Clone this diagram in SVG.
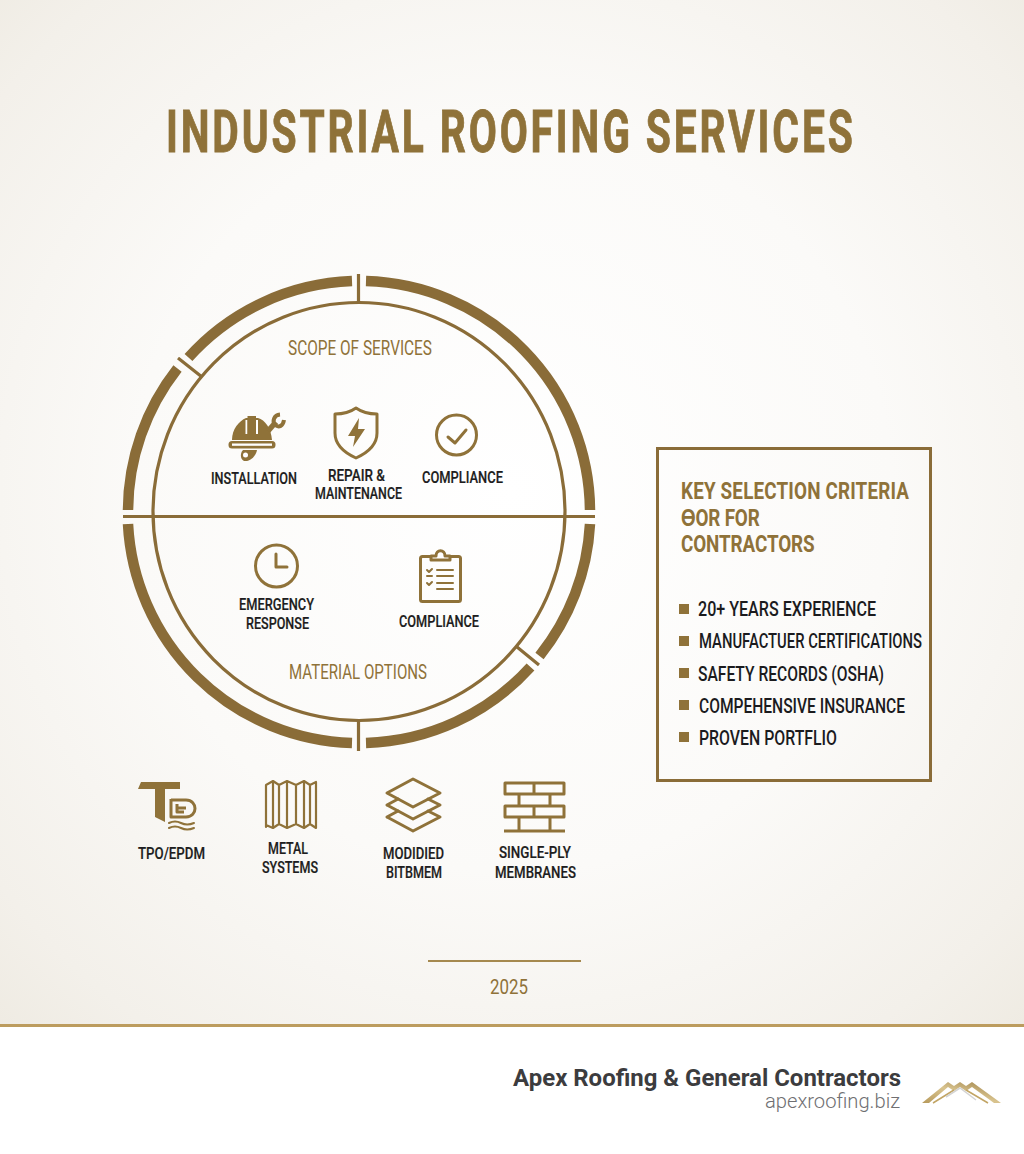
<svg xmlns="http://www.w3.org/2000/svg" width="1024" height="1154" viewBox="0 0 1024 1154">
<style>
text{font-family:Roboto,"Liberation Sans",sans-serif;}
.title{font-size:60px;font-weight:700;fill:#8f7239;stroke:#8f7239;stroke-width:.9px;}
.gold{font-size:20px;fill:#8f7239;}
.head{font-size:23px;font-weight:700;fill:#8f7239;}
.lab{font-size:17px;fill:#1d1d20;font-weight:500;stroke:#1d1d20;stroke-width:.2px;}
.item{font-size:19.5px;fill:#1b1b1e;font-weight:500;}
.m{text-anchor:middle;}
.ring{fill:none;stroke:#8a6c38;stroke-width:10.5;}
.thin{fill:none;stroke:#8a6c38;stroke-width:3.2;}
.ic{fill:none;stroke:#8f7239;stroke-width:3;stroke-linejoin:round;stroke-linecap:round;}
.fl{fill:#8f7239;}
.co{font-size:24px;font-weight:700;fill:#3c3c3e;}
.url{font-size:21px;font-weight:300;fill:#6f6f72;}
</style>
<defs>
<radialGradient id="bg" cx="50%" cy="48%" r="74%">
<stop offset="0" stop-color="#ffffff"/><stop offset=".5" stop-color="#fbfaf8"/><stop offset=".85" stop-color="#f3f0ea"/><stop offset="1" stop-color="#eeeae1"/>
</radialGradient>
<linearGradient id="roof" x1="0" y1="1" x2="1" y2="0">
<stop offset="0" stop-color="#b79a5c"/><stop offset=".5" stop-color="#d9c48f"/><stop offset="1" stop-color="#97793f"/>
</linearGradient>
</defs>
<rect id="background" width="1024" height="1026" fill="url(#bg)"/>
<rect id="footer-band" y="1027" width="1024" height="127" fill="#ffffff"/>
<rect id="footer-rule" y="1024" width="1024" height="3" fill="#bc9c5e"/>
<g id="title"><text class="title" transform="translate(166 152) scale(.68 1)" textLength="1010" lengthAdjust="spacing">INDUSTRIAL ROOFING SERVICES</text></g>

<g id="connectors">
<path class="ring" d="M352 281.100A231 231 0 0 0 188.500 357.500"/>
<path class="ring" d="M177.500 368.500A231 231 0 0 0 128 510"/>
<path class="ring" d="M128 524A231 231 0 0 0 352 742.900"/>
<path class="ring" d="M366 742.900A231 231 0 0 0 530.500 667"/>
<path class="ring" d="M539.500 656A231 231 0 0 0 590 524"/>
<path class="ring" d="M590 510A231 231 0 0 0 366 281.100"/>
<ellipse class="thin" cx="359" cy="511.500" rx="206" ry="209"/>
<path class="thin" d="M123 516.500H595M358.500 274V302M358.500 721V751M178 358L202 377M517 647L539 665"/>
</g>

<g id="scope-label"><text class="gold m" x="360" y="355" textLength="144" lengthAdjust="spacingAndGlyphs">SCOPE OF SERVICES</text></g>
<g id="material-label"><text class="gold m" x="358" y="679" textLength="138" lengthAdjust="spacingAndGlyphs">MATERIAL OPTIONS</text></g>

<g id="installation">
<path class="fl" d="M232 440C232 429 239 421 246 418H258C265 420 271 428 272 440Z"/>
<rect x="245.500" y="420" width="2" height="14" fill="#fff"/>
<rect x="256" y="420" width="2" height="14" fill="#fff"/>
<rect class="fl" x="247.500" y="416" width="8.500" height="18"/>
<rect x="228.500" y="441" width="47" height="7.500" rx="3.500" fill="#8f7239"/>
<rect x="232" y="443.500" width="40" height="2.300" fill="#fff"/>
<path fill="none" stroke="#8f7239" stroke-width="5.500" d="M268 431L276 422"/>
<path fill="none" stroke="#8f7239" stroke-width="4" d="M280 414.500C274 415 272 421 275 425C279 428 283 426 284 420"/>
<path class="fl" d="M243 450H257C256 456 250 462 244 461C240 459 240 453 243 450Z"/>
<circle cx="245.500" cy="455" r="2.500" fill="#fff"/>
<text class="lab m" x="254" y="484" textLength="86" lengthAdjust="spacingAndGlyphs">INSTALLATION</text>
</g>

<g id="repair">
<path class="ic" d="M356 408C349 413 342 414 335 414V433C335 445 345 453 356 458C367 453 377 445 377 433V414C370 414 363 413 356 408Z"/>
<path class="fl" d="M359 418L348 436H355L353 447L365 429H358Z"/>
<text class="lab m" x="356.500" y="481" textLength="57" lengthAdjust="spacingAndGlyphs">REPAIR &amp;</text>
<text class="lab m" x="358.500" y="499" textLength="87" lengthAdjust="spacingAndGlyphs">MAINTENANCE</text>
</g>

<g id="compliance-a">
<circle class="ic" cx="456.500" cy="435" r="20"/>
<path class="ic" d="M448 437L455 443L466 430"/>
<text class="lab m" x="462.500" y="483" textLength="81" lengthAdjust="spacingAndGlyphs">COMPLIANCE</text>
</g>

<g id="emergency">
<circle class="ic" cx="276.500" cy="566" r="21"/>
<path class="ic" d="M276 554V567H287"/>
<text class="lab m" x="276.500" y="610" textLength="75" lengthAdjust="spacingAndGlyphs">EMERGENCY</text>
<text class="lab m" x="277.500" y="629" textLength="63" lengthAdjust="spacingAndGlyphs">RESPONSE</text>
</g>

<g id="compliance-b">
<rect class="ic" x="420.500" y="556.500" width="40" height="45" rx="2"/>
<path class="ic" d="M431 560V556H436C436 549 445 549 445 556H450V560Z" style="fill:#fff"/>
<path class="ic" d="M437 570H453M437 576H453M437 583H453M437 589H453M427 570L429 572L432 569M427 576H432M427 583L429 585L432 582" style="stroke-width:2"/>
<text class="lab m" x="439" y="627" textLength="80" lengthAdjust="spacingAndGlyphs">COMPLIANCE</text>
</g>

<g id="tpo">
<path class="fl" d="M141 782H180V789H165V822L155 817V789H138Z"/>
<path class="ic" d="M171 799V817H186C198 817 198 800 186 800H171M177 804V812H184M177 808H186" style="stroke-width:3;stroke-linecap:butt"/>
<path class="ic" d="M169 823Q175 820 181 823T194 823M169 828Q175 825 181 828T194 828" style="stroke-width:2"/>
<text class="lab m" x="171.500" y="859" textLength="67" lengthAdjust="spacingAndGlyphs">TPO/EPDM</text>
</g>

<g id="metal">
<path class="ic" d="M266 827V785L273 781L279 785L287 781L296 785L304 781L310 785L316 782V828L310 824L304 828L296 824L287 828L279 824L273 828L266 825M273 781V828M279 785V824M287 781V828M296 785V824M304 781V828M310 785V824" style="stroke-width:2.200"/>
<text class="lab m" x="288" y="854" textLength="40" lengthAdjust="spacingAndGlyphs">METAL</text>
<text class="lab m" x="290" y="873" textLength="56" lengthAdjust="spacingAndGlyphs">SYSTEMS</text>
</g>

<g id="modified">
<path class="ic" d="M387 817L413 831L440 817L428 811M398 811L387 817"/>
<path class="ic" d="M387 805L413 819L440 805L428 799M398 799L387 805"/>
<path class="ic" d="M387 793L413 779L440 793L413 807Z"/>
<text class="lab m" x="413.500" y="859" textLength="61" lengthAdjust="spacingAndGlyphs">MODIDIED</text>
<text class="lab m" x="414" y="878" textLength="56" lengthAdjust="spacingAndGlyphs">BITBMEM</text>
</g>

<g id="single-ply">
<path class="ic" d="M505 783H564V794H505ZM534 783V794M505 806H564V817H505ZM534 806V817M504 831H565M519 794V806M550 794V806M519 817V831M550 817V831" style="stroke-linecap:butt"/>
<text class="lab m" x="535" y="858" textLength="72" lengthAdjust="spacingAndGlyphs">SINGLE-PLY</text>
<text class="lab m" x="535.500" y="878" textLength="81" lengthAdjust="spacingAndGlyphs">MEMBRANES</text>
</g>

<g id="criteria">
<rect x="657.500" y="448.500" width="273" height="332" fill="none" stroke="#8a6c38" stroke-width="3"/>
<text class="head" transform="translate(681 499) scale(.82 1)" textLength="278" lengthAdjust="spacing">KEY SELECTION CRITERIA</text>
<text class="head" transform="translate(681 526) scale(.82 1)" textLength="96" lengthAdjust="spacing">ƟOR FOR</text>
<text class="head" transform="translate(681 552) scale(.82 1)" textLength="163" lengthAdjust="spacing">CONTRACTORS</text>
<rect class="fl" x="679" y="604" width="10" height="10"/>
<rect class="fl" x="679" y="636" width="10" height="10"/>
<rect class="fl" x="679" y="668" width="10" height="10"/>
<rect class="fl" x="679" y="700" width="10" height="10"/>
<rect class="fl" x="679" y="732" width="10" height="10"/>
<text class="item" x="698" y="616" textLength="178" lengthAdjust="spacingAndGlyphs">20+ YEARS EXPERIENCE</text>
<text class="item" x="699" y="648" textLength="223" lengthAdjust="spacingAndGlyphs">MANUFACTUER CERTIFICATIONS</text>
<text class="item" x="698" y="681" textLength="186" lengthAdjust="spacingAndGlyphs">SAFETY RECORDS (OSHA)</text>
<text class="item" x="699" y="713" textLength="206" lengthAdjust="spacingAndGlyphs">COMPEHENSIVE INSURANCE</text>
<text class="item" x="699" y="745" textLength="138" lengthAdjust="spacingAndGlyphs">PROVEN PORTFLIO</text>
</g>

<g id="year">
<rect x="428" y="960" width="153" height="2" fill="#a5894f"/>
<text class="gold m" x="509" y="994" textLength="38" lengthAdjust="spacingAndGlyphs">2025</text>
</g>

<g id="brand">
<text class="co" x="513" y="1086" textLength="388" lengthAdjust="spacingAndGlyphs">Apex Roofing &amp; General Contractors</text>
<text class="url" x="765" y="1108" textLength="135" lengthAdjust="spacingAndGlyphs">apexroofing.biz</text>
<path fill="url(#roof)" d="M922 1103L948 1082L954 1086L960 1082L966 1086L972 1082L1001 1103L994 1103L972 1087L966 1091L960 1087L954 1091L948 1087L929 1103Z"/>
<path fill="none" stroke="#c2a565" stroke-width="1.500" d="M933 1103L954 1090M988 1103L966 1090"/>
<path fill="none" stroke="#d4d4d4" stroke-width="1.500" d="M946 1097L960 1088L976 1100"/>
</g>
</svg>
